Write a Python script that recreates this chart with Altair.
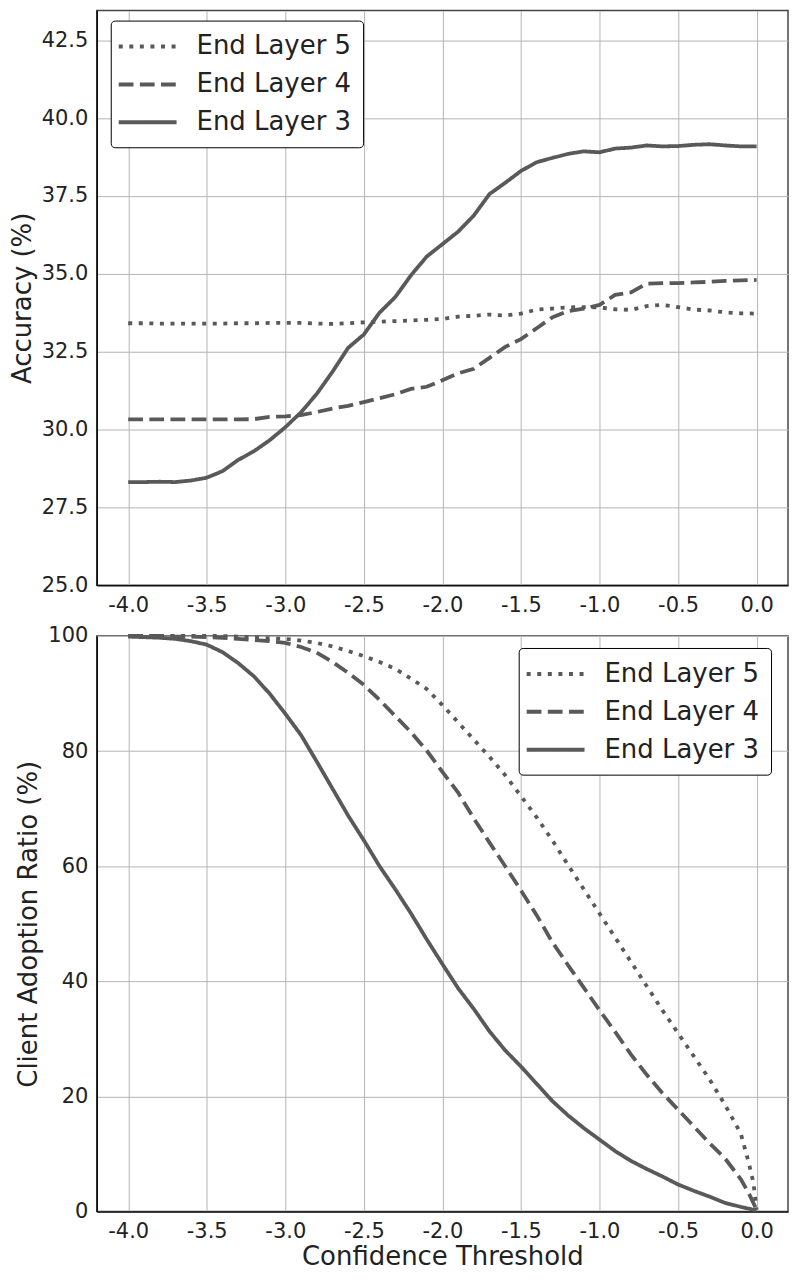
import altair as alt
import pandas as pd

# ---------------- data ----------------
thresholds = [-4.0, -3.9, -3.8, -3.7, -3.6, -3.5, -3.4, -3.3, -3.2, -3.1,
              -3.0, -2.9, -2.8, -2.7, -2.6, -2.5, -2.4, -2.3, -2.2, -2.1,
              -2.0, -1.9, -1.8, -1.7, -1.6, -1.5, -1.4, -1.3, -1.2, -1.1,
              -1.0, -0.9, -0.8, -0.7, -0.6, -0.5, -0.4, -0.3, -0.2, -0.1, 0.0]

series_names = ["End Layer 5", "End Layer 4", "End Layer 3"]

# Accuracy (%)
acc_layer5 = [33.41, 33.41, 33.40, 33.40, 33.40, 33.40, 33.40, 33.41, 33.41, 33.42,
              33.42, 33.42, 33.40, 33.39, 33.41, 33.44, 33.46, 33.48, 33.50, 33.52,
              33.55, 33.62, 33.65, 33.69, 33.66, 33.72, 33.85, 33.88, 33.92, 33.93,
              33.92, 33.86, 33.84, 33.96, 34.00, 33.93, 33.85, 33.82, 33.76, 33.73, 33.72]
acc_layer4 = [30.32, 30.32, 30.32, 30.32, 30.32, 30.32, 30.32, 30.32, 30.33, 30.40,
              30.42, 30.46, 30.56, 30.67, 30.76, 30.88, 31.00, 31.13, 31.30, 31.37,
              31.58, 31.80, 31.95, 32.30, 32.65, 32.90, 33.25, 33.60, 33.80, 33.88,
              34.00, 34.32, 34.40, 34.68, 34.70, 34.70, 34.72, 34.74, 34.77, 34.79, 34.80]
acc_layer3 = [28.31, 28.31, 28.32, 28.31, 28.36, 28.45, 28.66, 29.02, 29.30, 29.65,
              30.07, 30.55, 31.14, 31.85, 32.62, 33.05, 33.75, 34.25, 34.95, 35.55,
              35.95, 36.35, 36.87, 37.56, 37.92, 38.30, 38.58, 38.72, 38.85, 38.93,
              38.90, 39.02, 39.05, 39.12, 39.09, 39.10, 39.14, 39.16, 39.12, 39.09, 39.09]

# Client adoption ratio (%)
ratio_x_layer5 = thresholds[:-1] + [-0.05, -0.02, 0.0]
ratio_layer5 = [100, 100, 100, 100, 100, 100, 100, 99.9, 99.8, 99.6,
                99.5, 99.2, 98.8, 98.2, 97.4, 96.5, 95.5, 94.3, 92.6, 90.8,
                88.0, 85.0, 82.0, 79.0, 75.8, 72.2, 68.5, 64.5, 60.2, 56.0,
                51.8, 47.6, 43.4, 39.2, 35.0, 31.0, 27.0, 23.0, 18.5, 13.5,
                8.5, 5.0, 0.3]
ratio_x_layer4 = thresholds[:-1] + [-0.05, 0.0]
ratio_layer4 = [100, 100, 100, 99.9, 99.9, 99.8, 99.7, 99.5, 99.3, 99.1,
                98.8, 98.1, 97.1, 95.5, 93.6, 91.5, 88.9, 86.1, 83.3, 80.1,
                76.4, 72.8, 68.3, 64.1, 60.0, 55.8, 51.5, 46.8, 42.8, 38.9,
                35.0, 31.2, 27.3, 23.8, 20.6, 17.7, 14.8, 11.9, 9.2, 5.6,
                3.2, 0.3]
ratio_x_layer3 = thresholds
ratio_layer3 = [99.9, 99.8, 99.7, 99.5, 99.1, 98.5, 97.2, 95.3, 93.0, 90.0,
                86.5, 82.8, 78.2, 73.5, 68.8, 64.5, 60.0, 56.0, 51.8, 47.3,
                43.0, 38.8, 35.2, 31.3, 28.0, 25.2, 22.2, 19.2, 16.7, 14.5,
                12.5, 10.5, 8.8, 7.4, 6.1, 4.7, 3.6, 2.6, 1.5, 0.8, 0.2]

x_ticks = [-4.0, -3.5, -3.0, -2.5, -2.0, -1.5, -1.0, -0.5, 0.0]
acc_ticks = [25.0, 27.5, 30.0, 32.5, 35.0, 37.5, 40.0, 42.5]
ratio_ticks = [0, 20, 40, 60, 80, 100]

# ---------------- tables ----------------
acc_df = pd.concat([
    pd.DataFrame({"x": thresholds, "y": vals, "series": name})
    for name, vals in zip(series_names, [acc_layer5, acc_layer4, acc_layer3])
])
ratio_df = pd.concat([
    pd.DataFrame({"x": xs, "y": vals, "series": name})
    for name, xs, vals in zip(series_names,
                              [ratio_x_layer5, ratio_x_layer4, ratio_x_layer3],
                              [ratio_layer5, ratio_layer4, ratio_layer3])
])

LINE = "#595959"
GRID = "#b5b5b5"
dash_scale = alt.Scale(domain=series_names,
                       range=[[4, 6.6], [14.8, 6.4], [1, 0]])
label_expr = "(datum.value < 0 ? '-' : '') + format(abs(datum.value), '.1f')"


def legend(x, y):
    return alt.Legend(title=None, orient="none", legendX=x, legendY=y,
                      labelFontSize=26, labelColor="#222", labelFont="DejaVu Sans",
                      symbolType="M-2.5,0H2.5", symbolSize=538, symbolStrokeWidth=4,
                      symbolStrokeColor=LINE, symbolFillColor="transparent",
                      symbolOffset=11, labelOffset=35,
                      strokeColor="#000", fillColor="white",
                      cornerRadius=4, padding=12, rowPadding=11)


W = 693
top = alt.Chart(acc_df).mark_line(color=LINE, strokeWidth=3.8).encode(
    x=alt.X("x:Q", scale=alt.Scale(domain=[-4.2, 0.2], nice=False, zero=False),
            axis=alt.Axis(values=x_ticks, labelExpr=label_expr, title=None)),
    y=alt.Y("y:Q", scale=alt.Scale(domain=[25, 43.45], nice=False, zero=False),
            axis=alt.Axis(values=acc_ticks, format=".1f", title="Accuracy (%)")),
    strokeDash=alt.StrokeDash("series:N", scale=dash_scale, legend=legend(14, 10)),
    order=alt.Order("x:Q"),
).properties(width=W, height=576)

bottom = alt.Chart(ratio_df).mark_line(color=LINE, strokeWidth=3.8).encode(
    x=alt.X("x:Q", scale=alt.Scale(domain=[-4.2, 0.2], nice=False, zero=False),
            axis=alt.Axis(values=x_ticks, labelExpr=label_expr,
                          title="Confidence Threshold", titlePadding=2)),
    y=alt.Y("y:Q", scale=alt.Scale(domain=[0, 100], nice=False),
            axis=alt.Axis(values=ratio_ticks, format="d",
                          title="Client Adoption Ratio (%)")),
    strokeDash=alt.StrokeDash("series:N", scale=dash_scale, legend=legend(423, 12)),
    order=alt.Order("x:Q"),
).properties(width=W, height=577)

chart = alt.vconcat(top, bottom, spacing=8).resolve_scale(
    strokeDash="independent", x="independent", y="independent"
).resolve_legend(strokeDash="independent").properties(
    padding={"left": 0, "top": 0, "right": 0, "bottom": 0}
).configure(font="DejaVu Sans").configure_view(
    stroke="#444", strokeWidth=1.5
).configure_axis(
    grid=True, gridColor=GRID, gridWidth=1, ticks=False,
    domainColor="#111", domainWidth=1.5,
    labelFontSize=21, labelColor="#222", labelPadding=9,
    titleFontSize=26, titleFontWeight="normal", titleColor="#222", titlePadding=6,
).configure_legend(strokeWidth=1)

chart.save("out.html", embed_options={"renderer": "svg", "actions": False})
